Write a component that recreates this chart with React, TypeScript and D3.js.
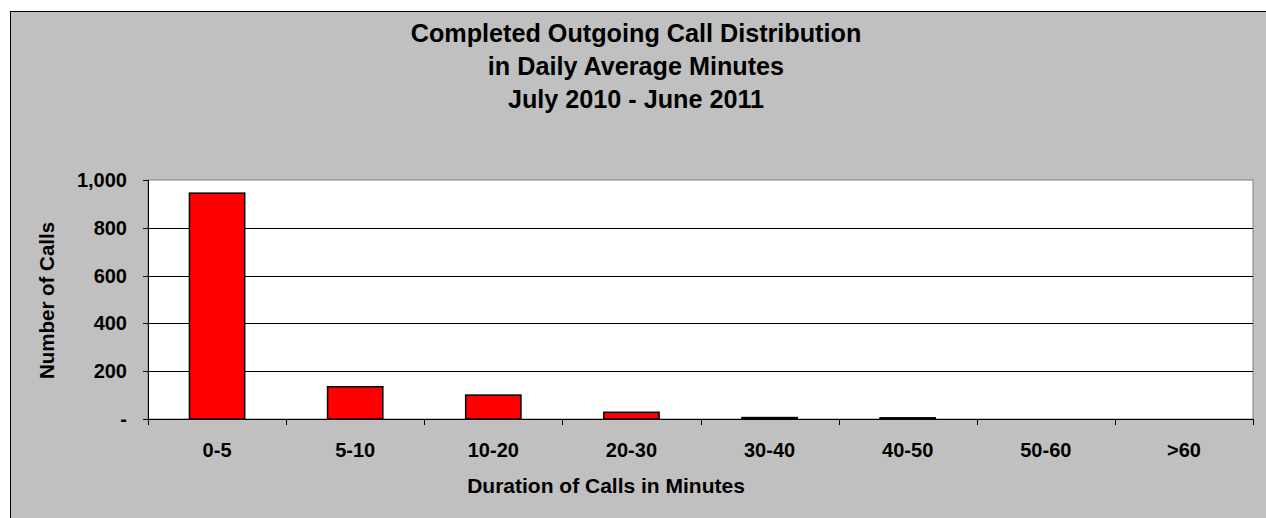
import React from "react";
import * as d3 from "d3";

const categories = ["0-5", "5-10", "10-20", "20-30", "30-40", "40-50", "50-60", ">60"];
const calls = [945, 135, 100, 28, 6, 5, 0, 0];
const yTicks = [0, 200, 400, 600, 800, 1000];
const titleLines = ["Completed Outgoing Call Distribution", "in Daily Average Minutes", "July 2010 - June 2011"];

const W = 1266, H = 518;
const plot = { left: 148, top: 180, right: 1253, bottom: 419 };
const font = "'Liberation Sans', Arial, sans-serif";

export default function App() {
  const x = d3.scaleBand().domain(categories).range([plot.left, plot.right]).paddingInner(0.6).paddingOuter(0.3);
  const xb = d3.scaleBand().domain(categories).range([plot.left, plot.right]);
  const y = d3.scaleLinear().domain([0, 1000]).range([plot.bottom, plot.top]);
  const fmt = d3.format(",");
  return (
    <svg width={W} height={H} style={{ position: "fixed", left: 0, top: 0 }} fontFamily={font}>
      <rect x={0} y={0} width={W} height={H} fill="#ffffff" />
      <rect x={10.5} y={11.5} width={W + 10} height={H + 10} fill="#c0c0c0" stroke="#000" strokeWidth={1} />
      {titleLines.map((t, i) => (
        <text key={i} x={636} y={42 + i * 33} textAnchor="middle" fontSize={25.2} fontWeight="bold" fill="#000">{t}</text>
      ))}
      <rect x={plot.left} y={plot.top} width={plot.right - plot.left} height={plot.bottom - plot.top} fill="#fff" stroke="#808080" strokeWidth={1} />
      {yTicks.filter(t => t > 0 && t < 1000).map(t => (
        <line key={t} x1={plot.left} x2={plot.right} y1={Math.round(y(t)) + 0.5} y2={Math.round(y(t)) + 0.5} stroke="#000" strokeWidth={1} />
      ))}
      {categories.map((c, i) => (
        <rect key={c} x={x(c)} y={y(calls[i])} width={x.bandwidth()} height={plot.bottom - y(calls[i])} fill="#ff0000" stroke="#000" strokeWidth={1.5} />
      ))}
      <line x1={plot.left + 0.5} x2={plot.left + 0.5} y1={plot.top} y2={plot.bottom} stroke="#000" />
      <line x1={plot.left} x2={plot.right} y1={plot.bottom + 0.5} y2={plot.bottom + 0.5} stroke="#000" />
      {yTicks.map(t => (
        <g key={t}>
          <line x1={plot.left - 5} x2={plot.left} y1={Math.round(y(t)) + 0.5} y2={Math.round(y(t)) + 0.5} stroke="#000" />
          <text x={127} y={y(t) + 7} textAnchor="end" fontSize={20} fontWeight="bold">{t === 0 ? "-" : fmt(t)}</text>
        </g>
      ))}
      {[...categories.map(c => xb(c) as number), plot.right].map((v, i) => (
        <line key={i} x1={Math.round(v) + 0.5} x2={Math.round(v) + 0.5} y1={plot.bottom} y2={plot.bottom + 6} stroke="#000" />
      ))}
      {categories.map(c => (
        <text key={c} x={(xb(c) as number) + xb.bandwidth() / 2} y={457} textAnchor="middle" fontSize={20} fontWeight="bold">{c}</text>
      ))}
      <text x={606} y={493} textAnchor="middle" fontSize={21} fontWeight="bold">Duration of Calls in Minutes</text>
      <text transform={`translate(53.5,${(plot.top + plot.bottom) / 2 + 1}) rotate(-90)`} textAnchor="middle" fontSize={20.5} fontWeight="bold">Number of Calls</text>
    </svg>
  );
}
